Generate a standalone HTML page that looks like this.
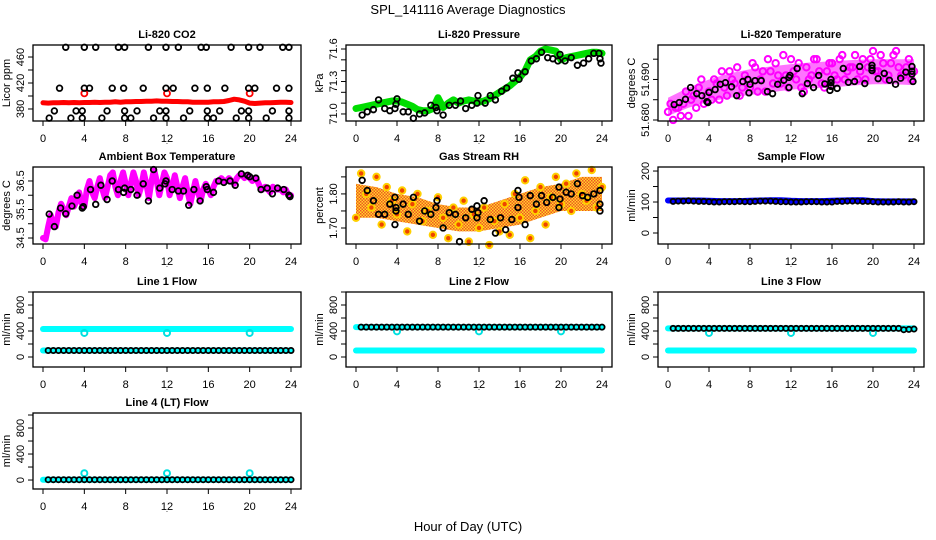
<!DOCTYPE html>
<html><head><meta charset="utf-8"><title>SPL_141116 Average Diagnostics</title>
<style>
html,body{margin:0;padding:0;background:#fff;}
svg{display:block;font-family:"Liberation Sans",Arial,sans-serif;}
</style></head>
<body>
<svg id="chart" width="936" height="540" viewBox="0 0 936 540" xmlns="http://www.w3.org/2000/svg">
<defs>
<pattern id="rhPat" width="3" height="3" patternUnits="userSpaceOnUse">
<rect width="3" height="3" fill="#ffd400"/><rect width="1.5" height="1.5" fill="#ee3300"/><rect x="1.5" y="1.5" width="1.5" height="1.5" fill="#ee3300"/>
</pattern>
</defs>
<rect width="936" height="540" fill="#fff"/>
<text x="468" y="14" text-anchor="middle" font-size="13">SPL_141116  Average Diagnostics</text>
<text x="468" y="531" text-anchor="middle" font-size="13">Hour of Day (UTC)</text>
</svg>
<script>
// ---------- data ----------
const xTicks = [0,4,8,12,16,20,24];
// CO2
const co2RedHalfHour = [389.5,389,389.5,389.5,390,389.5,390,389.5,390,390,390.5,390,390.5,390.5,391,390.5,391,391,391.5,391.5,392,392,392.5,392,392,391.5,391.5,391,391,390.5,390.5,390.5,390.5,391,391,391.5,393,395,394,392,389,388.5,389,389.5,389.5,390,390.5,390.5,390];
const co2RedOutX = [4,12,20];
const co2RedOutY = [404,404,404];
const co2BlackX = [2.2,4.0,5.1,7.3,7.9,10.2,11.9,13.1,15.3,15.8,18.2,19.9,21.0,23.2,23.8, 1.6,4.0,4.5,6.7,7.8,9.7,11.9,12.6,14.7,15.9,17.6,19.9,20.5,22.6,23.8, 1.1,3.2,3.8,6.2,7.9,9.1,11.3,11.9,14.2,15.9,17.1,19.2,19.9,22.2,23.8, 0.6,2.7,3.8,5.7,7.9,8.5,10.7,11.9,13.6,15.9,16.5,18.7,19.9,21.6,23.8];
const co2BlackY = [475,475,475,475,475,475,475,475,475,475,475,475,475,475,475, 412,412,412,412,412,412,412,412,412,412,412,412,412,412,412, 377,377,377,377,377,377,377,377,377,377,377,377,377,377,377, 366,366,366,366,366,366,366,366,366,366,366,366,366,366,366];
// Pressure
const pressGreen = [71.05,71.06,71.07,71.08,71.09,71.10,71.11,71.12,71.12,71.11,71.09,71.07,71.04,71.03,71.03,71.05,71.15,71.06,71.10,71.13,71.10,71.12,71.13,71.12,71.11,71.12,71.14,71.17,71.20,71.23,71.26,71.30,71.34,71.40,71.50,71.53,71.58,71.60,71.59,71.58,71.50,71.52,71.53,71.54,71.55,71.56,71.57,71.57,71.56];
const pressBlackX = [0.6,1.1,1.7,2.2,2.8,3.3,3.8,3.9,4.0,4.6,5.1,5.6,6.2,6.7,7.3,7.8,7.9,8.5,9.1,9.7,10.2,10.7,11.3,11.8,11.9,12.6,13.1,13.6,14.2,14.7,15.3,15.8,15.9,16.5,17.1,17.6,18.1,18.7,19.2,19.7,19.9,20.4,21.0,21.6,22.2,22.7,23.2,23.7,23.8,23.9];
const pressBlackY = [70.99,71.02,71.04,71.13,71.05,71.03,71.05,71.09,71.14,71.02,71.02,70.96,71.00,71.01,71.08,71.06,71.03,70.99,71.08,71.08,71.12,71.05,71.08,71.10,71.17,71.10,71.17,71.13,71.21,71.24,71.33,71.38,71.32,71.39,71.49,71.51,71.57,71.52,71.51,71.49,71.55,71.49,71.52,71.45,71.47,71.51,71.56,71.56,71.51,71.47];
// Li-820 temperature
const tempLo = [51.6810,51.6830,51.6845,51.6855,51.6862,51.6868,51.6875,51.6878,51.6880,51.6885,51.6888,51.6888,51.6886];
const tempHi = [51.6855,51.6880,51.6900,51.6915,51.6925,51.6932,51.6938,51.6942,51.6945,51.6948,51.6950,51.6950,51.6950];
const tempMagA = [51.682,51.680,51.683,51.684,51.681,51.686,51.688,51.684,51.687,51.690,51.685,51.688,51.692,51.689,51.686,51.691,51.688,51.693,51.690,51.687,51.692,51.694,51.689,51.691,51.695,51.690,51.688,51.693,51.691,51.695,51.689,51.692,51.694,51.690,51.696,51.692,51.693,51.690,51.695,51.693,51.697,51.692,51.694,51.691,51.696,51.693,51.691,51.695,51.692];
const tempMagB = [51.684,51.683,51.681,51.687,51.685,51.683,51.690,51.686,51.685,51.689,51.692,51.686,51.690,51.693,51.688,51.690,51.694,51.687,51.692,51.695,51.689,51.691,51.696,51.688,51.692,51.694,51.687,51.690,51.695,51.692,51.688,51.694,51.691,51.695,51.690,51.693,51.696,51.692,51.690,51.695,51.692,51.696,51.690,51.694,51.697,51.691,51.693,51.690];
const tempBlackX = [0.6,1.1,1.7,2.2,2.8,3.3,3.8,3.9,4.0,4.6,5.1,5.6,6.2,6.7,7.3,7.8,7.9,8.0,8.5,9.1,9.7,10.2,10.7,11.3,11.8,11.9,11.8,12.6,13.1,13.6,14.2,14.7,15.3,15.8,15.9,15.9,15.9,16.5,17.1,17.6,18.2,18.7,19.2,19.9,19.9,19.9,20.5,21.1,21.6,22.2,22.7,23.2,23.8,23.8,23.8,23.9];
const tempBlackY = [51.6838,51.6843,51.6851,51.6880,51.6865,51.6860,51.6845,51.6843,51.6868,51.6875,51.6888,51.6892,51.6882,51.6860,51.6895,51.6900,51.6867,51.6888,51.6897,51.6897,51.6870,51.6865,51.6888,51.6898,51.6905,51.6910,51.6880,51.6927,51.6865,51.6890,51.6880,51.6910,51.6889,51.6873,51.6883,51.6892,51.6900,51.6878,51.6927,51.6893,51.6895,51.6932,51.6890,51.6928,51.6935,51.6922,51.6902,51.6915,51.6898,51.6888,51.6903,51.6918,51.6932,51.6913,51.6920,51.6895];
// Ambient box temperature (quarter-hour)
const boxMag = [34.5,34.45,34.9,35.3,35.0,34.9,35.4,35.7,35.5,35.3,35.6,35.9,35.6,35.8,36.1,35.7,35.6,36.2,36.5,36.1,35.9,36.3,36.6,36.2,35.9,36.3,36.7,36.8,36.3,36.0,36.5,36.8,36.4,36.0,36.4,36.8,36.5,36.0,36.3,36.8,36.4,35.9,36.5,36.9,36.5,36.0,36.4,36.8,36.6,36.0,36.3,36.7,36.3,35.9,36.3,36.6,36.1,35.7,36.1,36.5,36.1,35.8,36.2,36.4,36.2,36.0,36.3,36.5,36.5,36.6,36.5,36.5,36.6,36.5,36.4,36.6,36.7,36.7,36.6,36.7,36.6,36.5,36.6,36.5,36.3,36.2,36.3,36.2,36.1,36.3,36.2,36.2,36.2,36.1,36.2,36.0,36.0];
const boxBlackX = [0.6,1.1,1.7,2.2,2.8,3.3,3.8,3.9,4.6,5.1,5.6,6.2,6.7,7.3,7.8,7.9,8.5,9.1,9.7,10.2,10.7,11.3,11.8,11.9,12.5,13.1,13.6,14.1,14.6,15.2,15.8,15.9,16.5,17.0,17.5,18.1,18.6,19.2,19.8,20.0,20.6,21.1,21.7,22.2,22.7,23.3,23.8,23.9];
const boxBlackY = [35.34,34.9,35.55,35.35,35.62,36.0,35.55,35.6,36.2,35.68,36.35,35.85,36.5,36.2,36.1,36.25,36.2,36.0,36.4,35.8,36.9,36.25,36.4,36.5,36.2,36.15,36.15,35.65,36.2,35.8,36.3,36.2,36.1,36.5,36.45,36.5,36.35,36.75,36.7,36.65,36.6,36.2,36.25,36.05,36.25,36.2,36.0,35.95];
// Gas stream RH
const rhLo = [1.73,1.73,1.72,1.71,1.70,1.69,1.69,1.70,1.71,1.73,1.75,1.75,1.75];
const rhHi = [1.83,1.82,1.80,1.79,1.77,1.76,1.76,1.78,1.80,1.82,1.83,1.85,1.85];
const rhDots = [1.73,1.86,1.80,1.76,1.85,1.71,1.82,1.78,1.74,1.81,1.69,1.77,1.80,1.72,1.75,1.68,1.79,1.73,1.67,1.76,1.71,1.78,1.66,1.74,1.70,1.76,1.65,1.72,1.69,1.77,1.68,1.80,1.73,1.84,1.67,1.75,1.82,1.71,1.79,1.85,1.77,1.83,1.75,1.86,1.80,1.78,1.87,1.76,1.82];
const rhBlackX = [0.6,1.1,1.7,2.2,2.8,3.3,3.8,3.9,3.9,3.8,4.6,5.1,5.6,6.2,6.7,7.3,7.8,7.9,8.5,9.1,9.7,10.1,10.7,11.3,11.8,11.9,11.8,12.5,13.1,13.6,14.1,14.6,15.2,15.8,15.8,15.9,16.5,17.0,17.6,18.1,18.6,19.2,19.8,19.8,19.9,20.5,21.0,21.6,22.1,22.6,23.2,23.8,23.8,23.8];
const rhBlackY = [1.84,1.81,1.78,1.74,1.74,1.77,1.79,1.76,1.75,1.71,1.77,1.74,1.79,1.72,1.75,1.74,1.76,1.78,1.70,1.745,1.74,1.66,1.73,1.755,1.765,1.745,1.73,1.78,1.725,1.685,1.73,1.695,1.725,1.81,1.76,1.79,1.71,1.795,1.77,1.795,1.775,1.79,1.82,1.76,1.785,1.805,1.80,1.83,1.795,1.79,1.80,1.81,1.77,1.75];
// Flows (hourly band values, half-hourly black)
const sampleBlue = [105,105,105,105,104,103,103,103,104,105,106,106,104,103,103,103,104,105,106,106,103,102,102,102,102];
const sampleBlack = [102,103,103,104,103,102,102,101,100,100,101,101,101,102,101,101,102,103,103,103,102,101,101,100,100,100,101,101,101,100,100,100,102,102,103,103,103,102,102,101,100,100,100,100,101,100,100,101];
const line1Upper = [430,430,430,430,430,430,430,430,430,430,430,430,430,430,430,430,430,430,430,430,430,430,430,430,430];
const line1Lower = [100,100,100,100,100,100,100,100,100,100,100,100,100,100,100,100,100,100,100,100,100,100,100,100,100];
const line1Black = [100,100,100,100,100,100,100,100,100,100,100,100,100,100,100,100,100,100,100,100,100,100,100,100,100,100,100,100,100,100,100,100,100,100,100,100,100,100,100,100,100,100,100,100,100,100,100,100];
const line1OutX = [4,12,20];
const line1OutY = [370,370,370];
const line2Upper = [460,460,460,460,460,460,460,460,460,460,460,460,460,460,460,460,460,460,460,460,460,460,460,460,460];
const line2Lower = [100,100,100,100,100,100,100,100,100,100,100,100,100,100,100,100,100,100,100,100,100,100,100,100,100];
const line2Black = [460,460,460,460,460,460,460,460,460,460,460,460,460,460,460,460,460,460,460,460,460,460,460,460,460,460,460,460,460,460,460,460,460,460,460,460,460,460,460,460,460,460,460,460,460,460,460,460];
const line2OutX = [4,12,20];
const line2OutY = [395,395,395];
const line3Upper = [440,440,440,440,440,440,440,440,440,440,440,440,440,440,440,440,440,440,440,440,440,440,440,440,440];
const line3Lower = [100,100,100,100,100,100,100,100,100,100,100,100,100,100,100,100,100,100,100,100,100,100,100,100,100];
const line3Black = [440,440,440,440,440,440,440,440,440,440,440,440,440,440,440,440,440,440,440,440,440,440,440,440,440,440,440,440,440,440,440,440,440,440,440,440,440,440,440,440,440,440,440,440,440,420,425,430];
const line3OutX = [4,12,20];
const line3OutY = [370,370,370];
const line4Band = [5,5,5,5,5,5,5,5,5,5,5,5,5,5,5,5,5,5,5,5,5,5,5,5,5];
const line4Black = [5,5,5,5,5,5,5,5,5,5,5,5,5,5,5,5,5,5,5,5,5,5,5,5,5,5,5,5,5,5,5,5,5,5,5,5,5,5,5,5,5,5,5,5,5,5,5,5];
const line4OutX = [4,12,20];
const line4OutY = [105,105,105];

// ---------- drawing ----------
const NS = 'http://www.w3.org/2000/svg';
const svg = document.getElementById('chart');
function el(tag, attrs, parent){
  const e = document.createElementNS(NS, tag);
  for (const k in attrs) e.setAttribute(k, attrs[k]);
  (parent || svg).appendChild(e);
  return e;
}
const COLS = [[33,301],[346,612],[658,924]];
const ROWS = [[45,121],[167,244],[292,367],[413,489]];

function makePanel(name, col, row, title, ylab, vTop, vBot, yTicks, yLabels){
  const [L,R] = COLS[col], [T,B] = ROWS[row];
  const g = el('g', {});
  
  
  const xs = h => L + 10 + h * (R - L - 20) / 24;
  const ys = v => T + (vTop - v) / (vTop - vBot) * (B - T);
  const plot = el('g', {}, g);
  
  
  const t = el('text', {x:(L+R)/2, y:T-7, 'text-anchor':'middle', 'font-size':11, 'font-weight':'bold'}, g);
  t.textContent = title;
  
  
  const frame = el('rect', {x:L, y:T, width:R-L, height:B-T, fill:'none', stroke:'#000', 'stroke-width':1.3}, g);
  
  
  const xa = el('g', {}, g);
  
  
  xTicks.forEach(h => {
    el('line', {x1:xs(h), x2:xs(h), y1:B, y2:B+5, stroke:'#000', 'stroke-width':1}, xa);
    const lt = el('text', {x:xs(h), y:B+21, 'text-anchor':'middle', 'font-size':11}, xa);
    lt.textContent = h;
    
    
  });
  const ya = el('g', {}, g);
  
  
  yTicks.forEach(v => el('line', {x1:L-5, x2:L, y1:ys(v), y2:ys(v), stroke:'#000', 'stroke-width':1}, ya));
  yLabels.forEach(v => {
    const lt = el('text', {x:0, y:0, 'text-anchor':'middle', 'font-size':11, transform:`translate(${L-9},${ys(v)}) rotate(-90)`}, ya);
    lt.textContent = v;
    
    
  });
  const yl = el('text', {x:0, y:0, 'text-anchor':'middle', 'font-size':11, transform:`translate(${L-23},${(T+B)/2}) rotate(-90)`}, g);
  yl.textContent = ylab;
  
  
  const dot = el('text', {x:(L+R)/2, y:B+23, 'text-anchor':'middle', 'font-size':8}, g);
  dot.textContent = '.';
  
  
  return {plot, xs, ys};
}
function pts(p, xArr, yArr, color, r, sw, name, fill){
  xArr.forEach((h, i) => {
    const c = el('circle', {cx:p.xs(h), cy:p.ys(yArr[i]), r:r, fill:fill||'none', stroke:color, 'stroke-width':sw}, p.plot);
    
    
  });
}
function band(p, vals, step, color, width, name){
  let d = '';
  vals.forEach((v, i) => {
    d += (i === 0 ? 'M' : 'L') + p.xs(i * step).toFixed(1) + ',' + p.ys(v).toFixed(1) + ' ';
  });
  const pa = el('path', {d:d, fill:'none', stroke:color, 'stroke-width':width, 'stroke-linecap':'round', 'stroke-linejoin':'round'}, p.plot);
  
  
}
function envelope(p, lo, hi, step, color, name, op){
  let d = '';
  lo.forEach((v, i) => { d += (i ? 'L' : 'M') + p.xs(i*step).toFixed(1) + ',' + p.ys(v).toFixed(1); });
  for (let i = hi.length - 1; i >= 0; i--) d += 'L' + p.xs(i*step).toFixed(1) + ',' + p.ys(hi[i]).toFixed(1);
  const pa = el('path', {d:d + 'Z', fill:color, 'fill-opacity':op}, p.plot);
  
  
}
const idxX = (arr, step, off) => arr.map((_, i) => off + i * step);

// CO2
let p = makePanel('co2', 0, 0, 'Li-820 CO2', 'Licor ppm', 478.5, 361.5, [380,400,420,440,460], [380,420,460]);
band(p, co2RedHalfHour, 0.5, '#ff0000', 5, 'co2-red-series');
pts(p, co2RedOutX, co2RedOutY, '#ff0000', 3, 1.8, 'co2-red-point');
pts(p, co2BlackX, co2BlackY, '#000', 2.8, 1.8, 'co2-black-point');

// Pressure
p = makePanel('pressure', 1, 0, 'Li-820 Pressure', 'kPa', 71.637, 70.935, [71.0,71.1,71.2,71.3,71.4,71.5,71.6], ['71.0','71.3','71.6']);
band(p, pressGreen, 0.5, '#00dd00', 7, 'pressure-green-series');
pts(p, pressBlackX, pressBlackY, '#000', 2.8, 1.8, 'pressure-black-point');

// Li-820 Temperature
p = makePanel('li820-temp', 2, 0, 'Li-820 Temperature', 'degrees C', 51.6985, 51.67975, [51.680,51.685,51.690,51.695], ['51.680','51.690']);
envelope(p, tempLo, tempHi, 2, '#ff00ff', 'li820-temp-magenta-band', 0.55);
pts(p, idxX(tempMagA, 0.5, 0), tempMagA, '#ff00ff', 3.2, 2, 'li820-temp-magenta-point');
pts(p, idxX(tempMagB, 0.5, 0.25), tempMagB, '#ff00ff', 3.2, 2, 'li820-temp-magenta-point');
pts(p, tempBlackX, tempBlackY, '#000', 2.8, 1.8, 'li820-temp-black-point');

// Ambient
p = makePanel('ambient', 0, 1, 'Ambient Box Temperature', 'degrees C', 36.99, 34.29, [34.5,35,35.5,36,36.5], ['34.5','35.5','36.5']);
band(p, boxMag, 0.25, '#ff00ff', 6, 'ambient-magenta-series');
pts(p, boxBlackX, boxBlackY, '#000', 2.8, 1.8, 'ambient-black-point');

// RH
p = makePanel('rh', 1, 1, 'Gas Stream RH', 'percent', 1.879, 1.653, [1.70,1.75,1.80,1.85], ['1.70','1.80']);
envelope(p, rhLo, rhHi, 2, 'url(#rhPat)', 'rh-orange-band', 0.85);
pts(p, idxX(rhDots, 0.5, 0), rhDots, '#ffd000', 3.2, 2, 'rh-orange-point', '#ee4400');
pts(p, rhBlackX, rhBlackY, '#000', 2.8, 1.8, 'rh-black-point');

// Sample flow
p = makePanel('sample-flow', 2, 1, 'Sample Flow', 'ml/min', 213, -35.5, [0,50,100,150,200], [0,100,200]);
band(p, sampleBlue, 1, '#0000ff', 6, 'sample-flow-blue-series');
pts(p, idxX(sampleBlack, 0.5, 0.5), sampleBlack, '#000', 2.6, 1.8, 'sample-flow-black-point');

const flowTicks = [0,200,400,600,800,1000];
// Line 1
p = makePanel('line1', 0, 2, 'Line 1 Flow', 'ml/min', 1000, -154, flowTicks, [0,400,800]);
band(p, line1Upper, 1, '#00ffff', 6, 'line1-cyan-upper');
band(p, line1Lower, 1, '#00ffff', 6, 'line1-cyan-lower');
pts(p, line1OutX, line1OutY, '#00e0e0', 3, 2, 'line1-cyan-point');
pts(p, idxX(line1Black, 0.5, 0.5), line1Black, '#000', 2.6, 1.8, 'line1-black-point');
// Line 2
p = makePanel('line2', 1, 2, 'Line 2 Flow', 'ml/min', 1000, -154, flowTicks, [0,400,800]);
band(p, line2Upper, 1, '#00ffff', 6, 'line2-cyan-upper');
band(p, line2Lower, 1, '#00ffff', 6, 'line2-cyan-lower');
pts(p, line2OutX, line2OutY, '#00e0e0', 3, 2, 'line2-cyan-point');
pts(p, idxX(line2Black, 0.5, 0.5), line2Black, '#000', 2.6, 1.8, 'line2-black-point');
// Line 3
p = makePanel('line3', 2, 2, 'Line 3 Flow', 'ml/min', 1000, -154, flowTicks, [0,400,800]);
band(p, line3Upper, 1, '#00ffff', 6, 'line3-cyan-upper');
band(p, line3Lower, 1, '#00ffff', 6, 'line3-cyan-lower');
pts(p, line3OutX, line3OutY, '#00e0e0', 3, 2, 'line3-cyan-point');
pts(p, idxX(line3Black, 0.5, 0.5), line3Black, '#000', 2.6, 1.8, 'line3-black-point');
// Line 4
p = makePanel('line4', 0, 3, 'Line 4 (LT) Flow', 'ml/min', 1031, -138, flowTicks, [0,400,800]);
band(p, line4Band, 1, '#00ffff', 6, 'line4-cyan-series');
pts(p, line4OutX, line4OutY, '#00e0e0', 3, 2, 'line4-cyan-point');
pts(p, idxX(line4Black, 0.5, 0.5), line4Black, '#000', 2.6, 1.8, 'line4-black-point');
</script>
</body></html>
